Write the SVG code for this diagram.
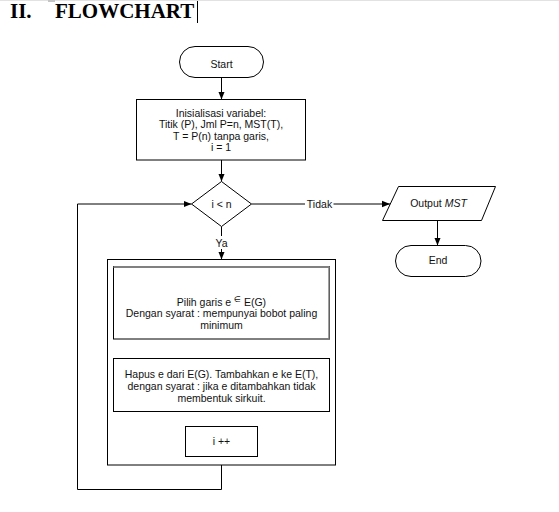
<svg xmlns="http://www.w3.org/2000/svg" width="559" height="512" viewBox="0 0 559 512">
<style>
.t{font-family:"Liberation Sans",Arial,sans-serif;font-size:10.5px;fill:#111;text-anchor:middle}
.title{font-family:"Liberation Serif","Times New Roman",serif;font-size:21px;font-weight:bold;fill:#000}
.s{fill:#fff;stroke:#000;stroke-width:1}
.c{fill:none;stroke:#000;stroke-width:1}
</style>
<defs>
<marker id="ah" markerUnits="userSpaceOnUse" markerWidth="8" markerHeight="8" viewBox="0 0 8 8" refX="8" refY="4" orient="auto">
<path d="M0,0.8 L8,4 L0,7.2 Z" fill="#000"/>
</marker>
</defs>
<rect width="559" height="512" fill="#fff"/>
<line x1="0" y1="0.5" x2="559" y2="0.5" stroke="#e2e2e2" stroke-width="1"/>
<rect x="48" y="0" width="7" height="2" fill="#c4c4c4"/>
<g id="title">
<text class="title" x="10" y="18">II.</text>
<text class="title" x="55" y="18">FLOWCHART</text>
<line x1="197.5" y1="1" x2="197.5" y2="23" stroke="#000" stroke-width="1"/>
</g>
<g id="connectors">
<line class="c" x1="221.5" y1="77.5" x2="221.5" y2="99.5" marker-end="url(#ah)"/>
<line class="c" x1="221.5" y1="160" x2="221.5" y2="181.5" marker-end="url(#ah)"/>
<line class="c" x1="251.5" y1="204" x2="305" y2="204"/>
<line class="c" x1="333.5" y1="204" x2="390" y2="204" marker-end="url(#ah)"/>
<text class="t" x="319.5" y="207.5">Tidak</text>
<line class="c" x1="437.5" y1="220.5" x2="437.5" y2="245.5" marker-end="url(#ah)"/>
<line class="c" x1="221.5" y1="226.5" x2="221.5" y2="236"/>
<text class="t" x="221.5" y="246.5">Ya</text>
<line class="c" x1="221.5" y1="249" x2="221.5" y2="259.5" marker-end="url(#ah)"/>
<polyline class="c" points="221.5,465 221.5,489.5 77.5,489.5 77.5,204 191.5,204" marker-end="url(#ah)"/>
</g>
<g id="start">
<rect class="s" x="179.5" y="46.5" width="84" height="31" rx="15.5"/>
<text class="t" x="221.5" y="67.5">Start</text>
</g>
<g id="init">
<rect class="s" x="136.5" y="99.5" width="169" height="60.5"/>
<text class="t" x="221" y="116.5">Inisialisasi variabel:</text>
<text class="t" x="221" y="128">Titik (P), Jml P=n, MST(T),</text>
<text class="t" x="221" y="139.5">T = P(n) tanpa garis,</text>
<text class="t" x="221" y="151">i = 1</text>
</g>
<g id="decision">
<polygon class="s" points="191.5,204 221.5,181.5 251.5,204 221.5,226.5"/>
<text class="t" x="221.5" y="207.5">i &lt; n</text>
</g>
<g id="output">
<polygon class="s" points="398.5,186.5 495.5,186.5 481.5,220.5 382.5,220.5"/>
<text class="t" x="438.5" y="207">Output <tspan font-style="italic">MST</tspan></text>
</g>
<g id="end">
<rect class="s" x="395.5" y="245.5" width="85.5" height="31" rx="15.5"/>
<text class="t" x="438" y="264">End</text>
</g>
<g id="loop">
<rect class="s" x="107.5" y="259.5" width="228" height="205.5"/>
<g id="pilih">
<rect class="s" x="113.5" y="266.5" width="216" height="72.5"/>
<line x1="113.5" y1="267" x2="329.5" y2="267" stroke="#808080" stroke-width="2"/>
<line x1="329" y1="266.5" x2="329" y2="339" stroke="#808080" stroke-width="1.5"/>
<text class="t" x="221.5" y="305.5">Pilih garis e <tspan font-family="'DejaVu Sans',sans-serif" font-size="8px" dy="-4">∈</tspan><tspan dy="4"> E(G)</tspan></text>
<text class="t" x="221.5" y="317">Dengan syarat : mempunyai bobot paling</text>
<text class="t" x="221.5" y="328.5">minimum</text>
</g>
<g id="hapus">
<rect class="s" x="113.5" y="358.5" width="216" height="53"/>
<text class="t" x="221.5" y="377.5">Hapus e dari E(G). Tambahkan e ke E(T),</text>
<text class="t" x="221.5" y="389.5">dengan syarat : jika e ditambahkan tidak</text>
<text class="t" x="221.5" y="401.5">membentuk sirkuit.</text>
</g>
<g id="inc">
<rect class="s" x="185.5" y="426.5" width="72" height="30"/>
<text class="t" x="221.5" y="445">i ++</text>
</g>
</g>
</svg>
